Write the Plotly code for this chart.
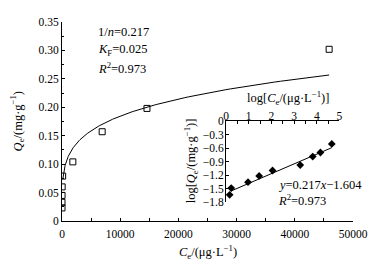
import numpy as np
import plotly.graph_objects as go

# Main plot data (Freundlich isotherm)
ce = [1.4, 1.7, 9.3, 29, 112, 1860, 6900, 14600, 45900]
qe = [0.023, 0.033, 0.045, 0.060, 0.079, 0.104, 0.157, 0.198, 0.302]

# Inset (linearised) data
log_ce = [0.16, 0.23, 0.97, 1.46, 2.05, 3.27, 3.82, 4.16, 4.66]
log_qe = [-1.64, -1.49, -1.36, -1.22, -1.10, -0.98, -0.79, -0.70, -0.51]

# Fit parameters shown on the chart
n_inv = 0.217
kf = 0.025
intercept = -1.604
r2 = 0.973

x_ticks = [0, 10000, 20000, 30000, 40000, 50000]
y_ticks = [0, 0.05, 0.10, 0.15, 0.20, 0.25, 0.30, 0.35]
y_tick_text = ["0", "0.05", "0.10", "0.15", "0.20", "0.25", "0.30", "0.35"]
ix_ticks = [0, 1, 2, 3, 4, 5]
iy_ticks = [0, -0.3, -0.6, -0.9, -1.2, -1.5, -1.8]
iy_tick_text = ["0", "\u22120.3", "\u22120.6", "\u22120.9", "\u22121.2", "\u22121.5", "\u22121.8"]

FONT = "Liberation Serif"
TXT = 12.5

fit_ce = np.geomspace(150, max(ce), 200)
fit_qe = kf * fit_ce ** n_inv
fit_lx = np.array([log_ce[1], log_ce[-1]])
fit_ly = n_inv * fit_lx + intercept

fig = go.Figure()
fig.add_trace(go.Scatter(x=fit_ce, y=fit_qe, mode="lines",
                         line=dict(color="black", width=1), showlegend=False,
                         xaxis="x", yaxis="y"))
fig.add_trace(go.Scatter(x=ce, y=qe, mode="markers",
                         marker=dict(symbol="square-open", size=6, color="black",
                                     line=dict(width=1, color="black")),
                         showlegend=False, xaxis="x", yaxis="y"))
fig.add_trace(go.Scatter(x=fit_lx, y=fit_ly, mode="lines",
                         line=dict(color="black", width=1), showlegend=False,
                         xaxis="x2", yaxis="y2"))
fig.add_trace(go.Scatter(x=log_ce, y=log_qe, mode="markers",
                         marker=dict(symbol="diamond", size=6, color="black"),
                         showlegend=False, xaxis="x2", yaxis="y2"))

axis_common = dict(showline=True, linecolor="black", linewidth=1, ticks="inside",
                   tickcolor="black", ticklen=3, tickwidth=1, showgrid=False,
                   zeroline=False, tickfont=dict(family=FONT, size=11.5, color="black"))

fig.update_layout(
    width=382, height=261,
    margin=dict(l=62, r=29, t=22, b=40),
    paper_bgcolor="white", plot_bgcolor="white",
    font=dict(family=FONT, size=11, color="black"),
    xaxis=dict(range=[0, 50000], tickvals=x_ticks, ticktext=[str(v) for v in x_ticks],
               minor=dict(dtick=5000, ticks="inside", ticklen=3, tickcolor="black"),
               ticklabelstandoff=2, **axis_common),
    yaxis=dict(range=[0, 0.35], tickvals=y_ticks, ticktext=y_tick_text,
               minor=dict(dtick=0.025, ticks="inside", ticklen=2, tickcolor="black"),
               ticklabelstandoff=0, **axis_common),
    xaxis2=dict(domain=[0.5636, 0.9536], anchor="y2", side="top", range=[0, 5],
                tickvals=ix_ticks, ticktext=[str(v) for v in ix_ticks],
                minor=dict(dtick=0.5, ticks="inside", ticklen=3, tickcolor="black"),
                ticklabelstandoff=-5, **axis_common),
    yaxis2=dict(domain=[0.0955, 0.5025], anchor="x2", range=[-1.8, 0],
                tickvals=iy_ticks, ticktext=iy_tick_text,
                ticklabelstandoff=-1, **axis_common),
)

ann = [
    dict(text="<i>Q</i><sub>e</sub>/(mg\u00b7g<sup>\u22121</sup>)", x=-0.155, y=0.5,
         textangle=-90, xanchor="center", yanchor="middle"),
    dict(text="<i>C</i><sub>e</sub>/(\u03bcg\u00b7L<sup>\u22121</sup>)", x=0.5, y=-0.155,
         xanchor="center", yanchor="middle"),
    dict(text=f"1/<i>n</i>={n_inv}", x=0.117, y=0.95, xanchor="left", yanchor="middle"),
    dict(text=f"<i>K</i><sub>F</sub>={kf}", x=0.117, y=0.859, xanchor="left", yanchor="middle"),
    dict(text=f"<i>R</i><sup>2</sup>={r2}", x=0.117, y=0.769, xanchor="left", yanchor="middle"),
    dict(text=f"<i>y</i>={n_inv}<i>x</i>\u22121.604", x=0.735, y=0.181,
         xanchor="left", yanchor="middle"),
    dict(text=f"<i>R</i><sup>2</sup>={r2}", x=0.735, y=0.106, xanchor="left", yanchor="middle"),
    dict(text="log[<i>C</i><sub>e</sub>/(\u03bcg\u00b7L<sup>\u22121</sup>)]", x=0.778, y=0.62,
         xanchor="center", yanchor="middle"),
    dict(text="log[<i>Q</i><sub>e</sub>/(mg\u00b7g<sup>\u22121</sup>)]", x=(191 - 62) / 291,
         y=0.30, textangle=-90, xanchor="center", yanchor="middle"),
]
for a in ann:
    fig.add_annotation(xref="paper", yref="paper", showarrow=False,
                       font=dict(family=FONT, size=TXT, color="black"), **a)

fig.write_html("out.html", config={"displayModeBar": False},
               post_script="document.body.style.margin='0';")
